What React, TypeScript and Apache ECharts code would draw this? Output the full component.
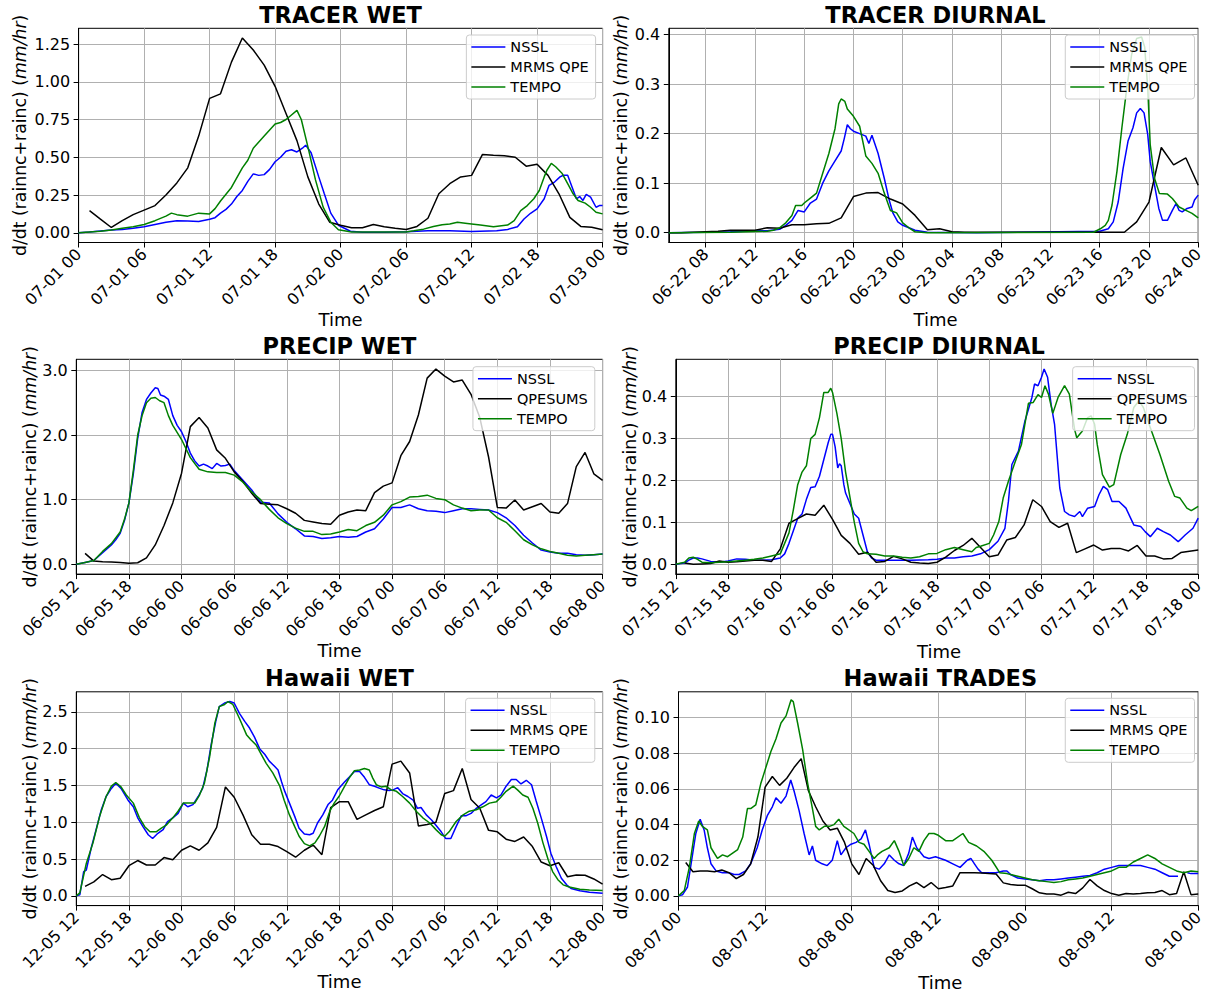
import React, { useEffect, useRef } from 'react';
import * as echarts from 'echarts';

const FONT = 'DejaVu Sans';

// ---------- tick values ----------
const xTicks6h48 = [0, 6, 12, 18, 24, 30, 36, 42, 48];
const xTicks4h = [8, 12, 16, 20, 24, 28, 32, 36, 40, 44, 48];
const xTicks6h60 = [0, 6, 12, 18, 24, 30, 36, 42, 48, 54, 60];
const xTicks12h72 = [0, 12, 24, 36, 48, 60, 72];
const yTicksTracerWet = [0, 0.25, 0.5, 0.75, 1.0, 1.25];
const yTicksTracerDiurnal = [0, 0.1, 0.2, 0.3, 0.4];
const yTicksPrecipWet = [0, 1, 2, 3];
const yTicksPrecipDiurnal = [0, 0.1, 0.2, 0.3, 0.4];
const yTicksHawaiiWet = [0, 0.5, 1.0, 1.5, 2.0, 2.5];
const yTicksHawaiiTrades = [0, 0.02, 0.04, 0.06, 0.08, 0.1];

// ---------- TRACER WET (hours since 07-01 00) ----------
const p1Nssl = [[0,0],[1,0.005],[2,0.012],[3,0.018],[4,0.022],[5,0.03],[6,0.04],[7,0.055],[8,0.07],[9,0.08],[10,0.078],[11,0.075],[12,0.09],[12.5,0.1],[13,0.13],[13.5,0.155],[14,0.19],[14.5,0.24],[15,0.28],[15.5,0.34],[16,0.39],[16.5,0.38],[17,0.385],[17.5,0.42],[18,0.47],[18.5,0.5],[19,0.54],[19.5,0.55],[20,0.535],[20.5,0.56],[20.8,0.58],[21.3,0.53],[22,0.37],[22.5,0.26],[23.1,0.13],[23.8,0.05],[24.9,0.01],[26,0.003],[28,0.003],[30,0.007],[32,0.013],[34,0.013],[36,0.009],[38.3,0.013],[39.3,0.022],[40.2,0.04],[40.8,0.091],[41.4,0.129],[42,0.158],[42.65,0.225],[43.1,0.314],[43.6,0.336],[44.1,0.37],[44.4,0.381],[44.8,0.381],[45.2,0.303],[45.6,0.225],[45.9,0.24],[46.2,0.214],[46.5,0.254],[46.9,0.236],[47.4,0.169],[47.7,0.18],[48,0.18]];
const p1Mrms = [[1,0.146],[2,0.09],[3,0.035],[4,0.08],[5,0.12],[6,0.15],[7,0.18],[8,0.25],[9,0.33],[10,0.43],[11,0.64],[12,0.89],[13,0.92],[14,1.13],[15,1.29],[16,1.21],[17,1.11],[18,0.97],[19,0.79],[20,0.61],[21,0.37],[22,0.19],[23,0.07],[24,0.05],[25,0.033],[26,0.033],[27,0.055],[28,0.04],[29,0.03],[30,0.022],[31,0.042],[32,0.096],[33,0.258],[34,0.325],[35,0.37],[36,0.38],[37,0.519],[38,0.514],[39,0.51],[40,0.5],[41,0.441],[42,0.454],[43,0.38],[44,0.258],[45,0.102],[46,0.042],[47,0.036],[48,0.02]];
const p1Tempo = [[0,0],[1,0.005],[2,0.01],[3,0.018],[4,0.03],[5,0.04],[6,0.055],[7,0.08],[8,0.11],[8.5,0.13],[9,0.12],[10,0.11],[11,0.13],[12,0.125],[12.5,0.16],[13,0.21],[14,0.3],[15,0.43],[15.5,0.48],[16,0.56],[17,0.64],[17.5,0.68],[18,0.72],[18.5,0.73],[19,0.75],[19.5,0.78],[20,0.81],[20.4,0.75],[21,0.57],[21.7,0.35],[22.4,0.17],[23.1,0.07],[23.8,0.02],[25,0.005],[30,0.005],[30.7,0.013],[31.6,0.024],[32.5,0.042],[33.3,0.053],[34,0.058],[34.7,0.069],[35.6,0.062],[36.8,0.051],[38,0.04],[39.3,0.051],[39.9,0.08],[40.5,0.147],[41.1,0.18],[41.7,0.225],[42.2,0.28],[42.65,0.37],[42.9,0.414],[43.3,0.459],[43.7,0.437],[44.3,0.392],[44.8,0.325],[45.3,0.258],[45.75,0.214],[46.4,0.196],[46.9,0.169],[47.4,0.136],[48,0.125]];

// ---------- TRACER DIURNAL (hours since 06-22 00) ----------
const p2Nssl = [[5,0],[8,0.001],[10,0.002],[12,0.004],[13,0.004],[14,0.007],[14.5,0.015],[15,0.025],[15.5,0.045],[16,0.042],[16.5,0.06],[17,0.068],[17.5,0.1],[18,0.125],[18.5,0.145],[19,0.165],[19.25,0.19],[19.5,0.218],[19.75,0.21],[20,0.205],[20.5,0.2],[21,0.195],[21.25,0.18],[21.5,0.197],[22,0.16],[22.5,0.11],[22.9,0.066],[23.2,0.04],[23.6,0.022],[24,0.015],[24.5,0.01],[25,0.005],[26,0.001],[30,0],[40,0.003],[40.7,0.008],[41.1,0.022],[41.5,0.062],[41.9,0.13],[42.3,0.185],[42.7,0.212],[43,0.242],[43.3,0.251],[43.6,0.242],[43.9,0.198],[44.1,0.144],[44.45,0.096],[44.8,0.049],[45.1,0.025],[45.5,0.025],[45.9,0.045],[46.2,0.059],[46.45,0.045],[46.7,0.042],[47.1,0.049],[47.5,0.052],[47.7,0.066],[48,0.076]];
const p2Mrms = [[5,0],[6,0],[7,0.001],[8,0.002],[9,0.003],[10,0.005],[11,0.005],[12,0.005],[13,0.01],[14,0.009],[15,0.016],[16,0.016],[17,0.018],[18,0.019],[19,0.03],[20,0.073],[21,0.08],[22,0.081],[23,0.068],[24,0.058],[25,0.035],[26,0.006],[27,0.008],[28,0.002],[29,0.001],[32,0.001],[36,0.001],[40,0.001],[41,0.001],[42,0.001],[43,0.022],[44,0.062],[45,0.172],[46,0.137],[47,0.151],[48,0.096]];
const p2Tempo = [[5,0],[10,0.001],[13,0.003],[13.5,0.005],[14,0.01],[14.5,0.02],[15,0.035],[15.3,0.055],[15.8,0.055],[16,0.06],[16.5,0.07],[17,0.08],[17.5,0.12],[18,0.16],[18.5,0.21],[18.8,0.26],[19,0.27],[19.3,0.265],[19.5,0.25],[20,0.235],[20.5,0.215],[21,0.155],[21.5,0.14],[22,0.12],[22.5,0.08],[23,0.045],[23.5,0.04],[24,0.02],[24.5,0.01],[25,0.002],[26,0],[39.5,0.001],[40.05,0.008],[40.45,0.015],[40.7,0.025],[41,0.056],[41.4,0.124],[41.8,0.212],[42.2,0.293],[42.6,0.361],[43,0.392],[43.4,0.395],[43.65,0.375],[43.9,0.293],[44.1,0.178],[44.45,0.11],[44.85,0.079],[45.5,0.078],[45.9,0.069],[46.45,0.052],[47,0.045],[47.5,0.039],[48,0.03]];

// ---------- PRECIP WET (hours since 06-05 12) ----------
const p3Nssl = [[0,0],[1,0.03],[2,0.06],[3,0.18],[4,0.3],[4.5,0.38],[5,0.48],[5.5,0.68],[6,0.95],[6.5,1.4],[7,1.95],[7.5,2.35],[8,2.55],[8.5,2.65],[9,2.73],[9.3,2.72],[9.6,2.62],[10,2.6],[10.5,2.55],[11,2.3],[11.5,2.15],[12,2.05],[12.5,1.9],[13,1.72],[13.5,1.6],[14,1.52],[14.5,1.55],[15,1.52],[15.5,1.48],[16,1.56],[16.5,1.52],[17,1.53],[17.5,1.55],[18,1.45],[19,1.3],[20,1.15],[21,0.96],[22,0.95],[23,0.78],[24,0.65],[25,0.55],[26,0.44],[27,0.43],[28,0.4],[29,0.41],[30,0.43],[31,0.42],[32,0.43],[33,0.5],[34,0.55],[35,0.7],[36,0.88],[37,0.88],[38,0.92],[39,0.86],[40,0.83],[41,0.82],[42,0.8],[43,0.83],[44,0.86],[45,0.86],[46,0.85],[47,0.84],[48,0.8],[49,0.72],[50,0.6],[51,0.45],[52,0.33],[53,0.22],[54,0.19],[55,0.17],[56,0.17],[57,0.15],[58,0.14],[59,0.15],[60,0.16]];
const p3Qpesums = [[1,0.17],[2,0.05],[3,0.04],[4,0.035],[5,0.03],[6,0.015],[7,0.025],[8,0.1],[9,0.3],[10,0.6],[11,0.95],[12,1.41],[13,2.13],[14,2.27],[15,2.11],[16,1.77],[17,1.64],[18,1.43],[19,1.28],[20,1.1],[21,0.94],[22,0.93],[23,0.92],[24,0.86],[25,0.79],[26,0.68],[27,0.655],[28,0.63],[29,0.62],[30,0.76],[31,0.81],[32,0.84],[33,0.83],[34,1.11],[35,1.21],[36,1.26],[37,1.68],[38,1.9],[39,2.31],[40,2.88],[41,3.02],[42,2.91],[43,2.82],[44,2.85],[45,2.63],[46,2.27],[47,1.66],[48,0.88],[49,0.87],[50,0.995],[51,0.84],[52,0.89],[53,0.94],[54,0.81],[55,0.79],[56,0.94],[57,1.51],[58,1.73],[59,1.4],[60,1.3]];
const p3Tempo = [[0,0],[1,0.03],[2,0.06],[3,0.2],[4,0.32],[5,0.5],[5.5,0.7],[6,0.95],[6.5,1.45],[7,2.0],[7.5,2.3],[8,2.5],[8.5,2.57],[9,2.58],[9.5,2.53],[10,2.5],[10.5,2.3],[11,2.15],[12,1.93],[13,1.65],[14,1.47],[15,1.43],[16,1.42],[17,1.42],[18,1.38],[19,1.27],[20,1.12],[21,1.0],[22,0.85],[23,0.72],[24,0.63],[25,0.56],[26,0.51],[27,0.51],[28,0.46],[29,0.47],[30,0.5],[31,0.54],[32,0.52],[33,0.6],[34,0.65],[35,0.76],[36,0.92],[37,0.97],[38,1.04],[39,1.05],[40,1.07],[41,1.02],[42,1.0],[43,0.92],[44,0.87],[45,0.83],[46,0.84],[47,0.84],[48,0.72],[49,0.65],[50,0.52],[51,0.38],[52,0.3],[53,0.24],[54,0.2],[55,0.17],[56,0.14],[57,0.13],[58,0.14],[59,0.15],[60,0.16]];

// ---------- PRECIP DIURNAL (hours since 07-15 12) ----------
const p4Nssl = [[0,0],[1,0.003],[1.5,0.01],[2,0.015],[2.5,0.015],[3,0.013],[4,0.007],[5,0.005],[6,0.008],[7,0.013],[8,0.012],[9,0.01],[10,0.01],[11,0.011],[12,0.015],[12.5,0.025],[13,0.05],[13.5,0.08],[14,0.11],[14.5,0.12],[15,0.155],[15.5,0.183],[16,0.185],[16.5,0.21],[17,0.25],[17.5,0.29],[17.8,0.31],[18,0.31],[18.3,0.28],[18.6,0.23],[18.8,0.24],[19,0.235],[19.3,0.19],[19.5,0.17],[20,0.145],[20.5,0.12],[21,0.11],[21.5,0.07],[22,0.03],[22.5,0.015],[23,0.01],[25,0.01],[27,0.01],[29,0.011],[30,0.012],[31,0.015],[32,0.015],[33,0.018],[34,0.02],[35,0.025],[36,0.035],[37,0.055],[37.8,0.086],[38.2,0.15],[38.6,0.238],[39.35,0.27],[40.1,0.342],[40.9,0.398],[41.2,0.43],[41.6,0.426],[42,0.446],[42.3,0.466],[42.7,0.446],[43.1,0.382],[43.5,0.334],[44.1,0.182],[44.65,0.126],[45.2,0.118],[45.8,0.114],[46.4,0.126],[46.7,0.114],[47.3,0.134],[48.1,0.138],[48.6,0.166],[49.1,0.186],[49.6,0.178],[50.1,0.15],[50.9,0.15],[51.7,0.134],[52.6,0.094],[53.4,0.09],[53.9,0.078],[54.5,0.066],[55.3,0.086],[56,0.078],[56.8,0.07],[57.7,0.054],[58.5,0.07],[59.4,0.086],[60,0.11]];
const p4Qpesums = [[1,0.003],[2,0],[3,0.001],[4,0.002],[5,0.008],[6,0.005],[7,0.006],[8,0.008],[9,0.01],[10,0.01],[11,0.007],[12,0.037],[13,0.098],[14,0.109],[15,0.12],[16,0.117],[17,0.141],[18,0.107],[19,0.069],[20,0.05],[21,0.024],[22,0.029],[23,0.005],[24,0.007],[25,0.019],[26,0.013],[27,0.005],[28,0.003],[29,0.002],[30,0.005],[31,0.017],[32,0.033],[33,0.045],[34,0.062],[35,0.04],[36,0.018],[37,0.022],[38,0.058],[39,0.064],[40,0.094],[41,0.154],[42,0.138],[43,0.102],[44,0.088],[45,0.098],[46,0.028],[47,0.037],[48,0.046],[49,0.034],[50,0.038],[51,0.038],[52,0.032],[53,0.045],[54,0.02],[55,0.02],[56,0.013],[57,0.014],[58,0.028],[59,0.031],[60,0.034]];
const p4Tempo = [[0,0],[1,0.005],[1.5,0.015],[2,0.017],[2.5,0.012],[3,0.005],[4,0.004],[5,0.005],[6,0.006],[7,0.008],[8,0.01],[9,0.012],[10,0.015],[11,0.02],[12,0.025],[12.5,0.05],[13,0.075],[13.5,0.13],[14,0.19],[14.5,0.22],[15,0.235],[15.5,0.3],[16,0.31],[16.5,0.35],[17,0.41],[17.5,0.41],[17.8,0.42],[18,0.41],[18.5,0.36],[19,0.3],[19.5,0.22],[20,0.16],[20.5,0.1],[21,0.05],[21.5,0.03],[22,0.025],[23,0.024],[24,0.02],[25,0.02],[26,0.017],[27,0.015],[28,0.018],[29,0.025],[30,0.026],[31,0.035],[32,0.04],[33,0.035],[34,0.03],[34.5,0.04],[35,0.043],[36,0.05],[36.5,0.07],[37.1,0.102],[37.6,0.158],[38.2,0.198],[39,0.246],[39.7,0.286],[40.5,0.384],[41.05,0.386],[41.6,0.405],[42,0.398],[42.4,0.426],[42.8,0.406],[43.3,0.36],[43.9,0.398],[44.65,0.426],[45.2,0.406],[45.8,0.322],[46.05,0.302],[46.7,0.318],[47.3,0.35],[47.7,0.354],[48.1,0.334],[48.4,0.286],[49,0.214],[49.8,0.184],[50.3,0.19],[51.1,0.262],[51.85,0.31],[52.6,0.374],[53.2,0.39],[53.7,0.374],[54.5,0.326],[55.6,0.262],[56.6,0.198],[57.3,0.162],[57.9,0.158],[58.7,0.134],[59.2,0.128],[60,0.138]];

// ---------- Hawaii WET (hours since 12-05 12) ----------
const p5Nssl = [[0,0],[0.4,0.014],[0.84,0.33],[1.14,0.35],[1.7,0.65],[2.3,0.92],[2.85,1.17],[3.4,1.35],[4,1.46],[4.5,1.53],[5.1,1.46],[5.9,1.3],[6.5,1.21],[7,1.06],[7.6,0.94],[8.2,0.83],[8.7,0.78],[9.3,0.85],[9.9,0.9],[10.4,1.01],[11,1.06],[11.6,1.12],[12.2,1.26],[12.7,1.21],[13.3,1.24],[13.9,1.35],[14.4,1.46],[14.9,1.71],[15.4,2.07],[15.9,2.37],[16.3,2.57],[16.9,2.62],[17.5,2.64],[18,2.62],[18.6,2.48],[19.2,2.37],[19.75,2.28],[20.3,2.16],[20.9,2.0],[21.5,1.92],[22,1.83],[22.6,1.76],[23,1.71],[23.4,1.55],[23.7,1.44],[24.3,1.26],[24.9,1.08],[25.4,0.92],[26,0.84],[26.6,0.83],[27,0.85],[27.5,0.99],[28.1,1.1],[28.7,1.24],[29.2,1.3],[29.8,1.44],[30.6,1.55],[31.1,1.61],[31.7,1.69],[32.3,1.69],[32.85,1.61],[33.4,1.51],[34,1.49],[34.6,1.46],[35.1,1.44],[35.7,1.43],[36.1,1.44],[36.65,1.47],[37.2,1.39],[37.8,1.35],[38.4,1.3],[38.9,1.19],[39.3,1.2],[39.9,1.1],[40.5,1.03],[41,0.96],[41.6,0.87],[42.1,0.78],[42.7,0.78],[43.3,0.94],[43.9,1.09],[44.45,1.09],[45,1.12],[45.6,1.19],[46.2,1.24],[46.7,1.28],[47.3,1.37],[47.9,1.33],[48.4,1.37],[49,1.49],[49.6,1.58],[50.15,1.58],[50.7,1.52],[51.3,1.57],[51.9,1.51],[52.4,1.3],[53,1.06],[53.6,0.81],[54.1,0.58],[54.7,0.4],[55.3,0.24],[55.9,0.15],[56.4,0.1],[57.4,0.07],[58.5,0.05],[60,0.036]];
const p5Mrms = [[1,0.13],[2,0.19],[3,0.29],[4,0.22],[5,0.24],[6,0.41],[7,0.48],[8,0.42],[9,0.42],[10,0.52],[11,0.49],[12,0.62],[13,0.68],[14,0.62],[15,0.72],[16,0.93],[17,1.48],[18,1.34],[19,1.1],[20,0.83],[21,0.7],[22,0.7],[23,0.67],[24,0.6],[25,0.525],[26,0.62],[27,0.69],[28,0.56],[29,1.2],[30,1.28],[31,1.28],[32,1.04],[33,1.1],[34,1.16],[35,1.21],[36,1.79],[37,1.83],[38,1.67],[39,0.95],[40,0.97],[41,1.0],[42,1.39],[43,1.43],[44,1.73],[45,1.31],[46,1.19],[47,0.89],[48,0.87],[49,0.77],[50,0.74],[51,0.8],[52,0.67],[53,0.46],[54,0.41],[55,0.45],[56,0.26],[57,0.285],[58,0.28],[59,0.23],[60,0.16]];
const p5Tempo = [[0,0],[0.4,0.04],[1.14,0.44],[1.9,0.72],[2.66,1.08],[3.4,1.35],[4,1.49],[4.5,1.54],[5.1,1.48],[5.7,1.37],[6.5,1.26],[7.2,1.06],[7.8,0.94],[8.4,0.87],[9.1,0.87],[9.7,0.92],[10.25,0.96],[11,1.06],[11.6,1.15],[12.2,1.26],[12.9,1.26],[13.5,1.26],[14.05,1.37],[14.6,1.53],[15.2,1.89],[15.8,2.35],[16.3,2.57],[16.9,2.6],[17.3,2.64],[17.85,2.6],[18.6,2.41],[19.4,2.19],[19.9,2.12],[20.5,2.05],[21.1,1.92],[21.65,1.8],[22.4,1.67],[23.2,1.49],[23.7,1.3],[24.3,1.1],[24.9,0.94],[25.4,0.81],[26,0.71],[26.6,0.68],[27.2,0.72],[27.7,0.81],[28.3,0.94],[28.9,1.15],[29.4,1.26],[30,1.36],[30.6,1.49],[31.1,1.6],[31.7,1.7],[32.3,1.71],[32.85,1.73],[33.4,1.71],[33.8,1.6],[34.2,1.51],[34.75,1.48],[35.3,1.49],[35.9,1.44],[36.5,1.42],[37.2,1.35],[38,1.26],[38.75,1.15],[39.5,1.06],[40.3,0.99],[41,0.9],[41.6,0.83],[42,0.81],[42.5,0.87],[43.3,1.01],[44.1,1.1],[44.8,1.15],[45.6,1.17],[46.35,1.21],[47.1,1.26],[47.9,1.28],[48.4,1.34],[49,1.42],[49.8,1.49],[50.3,1.44],[50.9,1.37],[51.5,1.34],[52.05,1.19],[52.6,0.99],[53.2,0.72],[53.8,0.49],[54.3,0.33],[54.9,0.22],[55.5,0.15],[56.2,0.12],[57.4,0.09],[58.5,0.08],[60,0.072]];

// ---------- Hawaii TRADES (hours since 08-07 00) ----------
const p6Nssl = [[0,0],[0.55,0.0006],[1.25,0.005],[1.9,0.022],[2.4,0.035],[3,0.043],[3.55,0.037],[4,0.027],[4.5,0.018],[5.2,0.014],[6.1,0.013],[7,0.013],[7.7,0.012],[8.4,0.012],[9.3,0.014],[10,0.018],[10.9,0.027],[11.6,0.037],[12.3,0.045],[13,0.05],[13.5,0.055],[14.2,0.052],[14.9,0.056],[15.55,0.065],[16,0.059],[16.7,0.048],[17.4,0.035],[18.1,0.023],[18.55,0.028],[19,0.02],[19.9,0.018],[20.6,0.017],[21.3,0.02],[22,0.031],[22.5,0.023],[23.2,0.027],[23.9,0.029],[24.6,0.03],[25.3,0.032],[25.9,0.037],[26.4,0.029],[27.1,0.016],[27.8,0.015],[28.5,0.018],[29.2,0.023],[29.9,0.02],[30.55,0.018],[31.2,0.017],[31.9,0.024],[32.4,0.033],[33,0.027],[34,0.022],[34.7,0.021],[35.6,0.022],[36.3,0.021],[37,0.02],[38,0.018],[39,0.016],[40,0.02],[40.5,0.021],[41,0.018],[41.5,0.015],[42,0.013],[43,0.013],[44,0.013],[45,0.014],[45.5,0.014],[46,0.012],[47,0.01],[48,0.0095],[49,0.009],[50,0.0085],[51,0.009],[52,0.009],[53,0.0095],[54,0.01],[55,0.0105],[56,0.011],[57,0.0115],[58,0.013],[59,0.015],[60,0.016],[61,0.017],[62,0.017],[63,0.017],[64,0.017],[65,0.016],[66,0.015],[67,0.013],[68,0.011],[69.2,0.011],[69.6,null],[70.5,0.013],[71,0.0125],[72,0.0125]];
const p6Mrms = [[1,0.0187],[2,0.0135],[3,0.014],[4,0.014],[5,0.0135],[6,0.0145],[7,0.013],[8,0.0097],[9,0.012],[10,0.018],[11,0.033],[12,0.061],[13,0.067],[14,0.062],[15,0.066],[16,0.072],[17,0.077],[18,0.059],[19,0.05],[20,0.042],[21,0.037],[22,0.038],[23,0.03],[24,0.018],[25,0.012],[26,0.021],[27,0.017],[28,0.0085],[29,0.003],[30,0.0019],[31,0.0028],[32,0.0056],[33,0.0075],[34,0.0047],[35,0.0075],[36,0.004],[37,0.0047],[38,0.0056],[39,0.013],[40,0.013],[41,0.013],[42,0.0129],[43,0.0125],[44,0.0123],[45,0.0073],[46,0.0064],[47,0.006],[48,0.006],[49,0.004],[50,0.0017],[51,0.001],[52,0.001],[53,0.0004],[54,0.002],[55,0.0013],[56,0.0045],[57,0.0092],[58,0.0056],[59,0.003],[60,0.0013],[61,0.0004],[62,0.0013],[63,0.001],[64,0.0013],[65,0.0017],[66,0.0019],[67,0.003],[68,0.0007],[69,0.0013],[70,0.0135],[71,0.0007],[72,0.001]];
const p6Tempo = [[0,0],[0.8,0.003],[1.5,0.016],[2.2,0.035],[2.8,0.042],[3.3,0.039],[4,0.037],[4.5,0.027],[5.4,0.021],[6.1,0.023],[6.8,0.022],[7.5,0.024],[8.2,0.026],[8.9,0.033],[9.55,0.049],[10,0.049],[10.7,0.051],[11.4,0.063],[12.1,0.072],[12.8,0.081],[13.5,0.088],[14.2,0.097],[14.9,0.101],[15.6,0.11],[15.9,0.109],[16.5,0.097],[17.2,0.082],[17.9,0.063],[18.6,0.048],[19,0.039],[19.5,0.037],[20.2,0.039],[20.9,0.039],[21.55,0.04],[22.2,0.043],[22.9,0.039],[23.6,0.037],[24.3,0.035],[25,0.03],[25.7,0.029],[26.4,0.025],[27.1,0.021],[27.55,0.023],[28.2,0.025],[29.2,0.027],[29.9,0.031],[30.55,0.025],[31.2,0.017],[31.9,0.021],[32.6,0.027],[33.3,0.025],[34,0.031],[34.7,0.035],[35.4,0.035],[36,0.034],[37,0.031],[38,0.031],[39.4,0.035],[40.2,0.03],[41.3,0.028],[42.3,0.025],[43.4,0.02],[44.5,0.013],[45.5,0.0125],[46,0.012],[47,0.011],[48,0.01],[49,0.009],[50,0.0085],[51,0.008],[52,0.0075],[53,0.008],[54,0.009],[55,0.0095],[56,0.01],[57,0.011],[58,0.012],[59,0.013],[60,0.014],[61,0.016],[62,0.016],[63,0.019],[64,0.021],[65,0.023],[66,0.021],[67,0.018],[68,0.016],[69,0.014],[70,0.013],[71,0.014],[72,0.0135]];

// ---------- panel definitions (data + axis ranges) ----------
const panelData = [
  { title: 'TRACER WET', obsName: 'MRMS QPE', month: 7, startDay: 1, startHour: 0, xMin: 0, xMax: 48, xTicks: xTicks6h48, yMin: -0.0645, yMax: 1.354, yTicks: yTicksTracerWet, yDec: 2, nssl: p1Nssl, obs: p1Mrms, tempo: p1Tempo },
  { title: 'TRACER DIURNAL', obsName: 'MRMS QPE', month: 6, startDay: 22, startHour: 0, xMin: 5, xMax: 48, xTicks: xTicks4h, yMin: -0.0197, yMax: 0.4127, yTicks: yTicksTracerDiurnal, yDec: 1, nssl: p2Nssl, obs: p2Mrms, tempo: p2Tempo },
  { title: 'PRECIP WET', obsName: 'QPESUMS', month: 6, startDay: 5, startHour: 12, xMin: 0, xMax: 60, xTicks: xTicks6h60, yMin: -0.151, yMax: 3.171, yTicks: yTicksPrecipWet, yDec: 1, nssl: p3Nssl, obs: p3Qpesums, tempo: p3Tempo },
  { title: 'PRECIP DIURNAL', obsName: 'QPESUMS', month: 7, startDay: 15, startHour: 12, xMin: 0, xMax: 60, xTicks: xTicks6h60, yMin: -0.0233, yMax: 0.489, yTicks: yTicksPrecipDiurnal, yDec: 1, nssl: p4Nssl, obs: p4Qpesums, tempo: p4Tempo },
  { title: 'Hawaii WET', obsName: 'MRMS QPE', month: 12, startDay: 5, startHour: 12, xMin: 0, xMax: 60, xTicks: xTicks6h60, yMin: -0.132, yMax: 2.772, yTicks: yTicksHawaiiWet, yDec: 1, nssl: p5Nssl, obs: p5Mrms, tempo: p5Tempo },
  { title: 'Hawaii TRADES', obsName: 'MRMS QPE', month: 8, startDay: 7, startHour: 0, xMin: 0, xMax: 72, xTicks: xTicks12h72, yMin: -0.00545, yMax: 0.1145, yTicks: yTicksHawaiiTrades, yDec: 2, nssl: p6Nssl, obs: p6Mrms, tempo: p6Tempo },
];

// ---------- layout (pixels) ----------
const layout = [
  { left: 78.6, top: 28.3, width: 524, height: 214.2, legendRight: 610.4, legendTop: 35, yLabX: 20.4, titleY: 15, timeY: 319 },
  { left: 668.8, top: 28.3, width: 533.4, height: 214.2, legendRight: 11.5, legendTop: 35, yLabX: 620.7, titleY: 15, timeY: 319.5 },
  { left: 76.3, top: 359.3, width: 526.3, height: 214.8, legendRight: 611.2, legendTop: 366.7, yLabX: 29.5, titleY: 346, timeY: 650 },
  { left: 675.8, top: 359.3, width: 526.4, height: 214.8, legendRight: 11.5, legendTop: 366.7, yLabX: 630, titleY: 346, timeY: 651 },
  { left: 76.3, top: 691.8, width: 526.3, height: 213.8, legendRight: 611.2, legendTop: 698.3, yLabX: 30, titleY: 678, timeY: 981.5 },
  { left: 678.5, top: 691.8, width: 523.7, height: 213.8, legendRight: 11.5, legendTop: 698.3, yLabX: 620.7, titleY: 678, timeY: 982.5 },
];

const pad2 = (n: number) => (n < 10 ? '0' + n : '' + n);

function makeXFormatter(p: any) {
  return (v: number) => {
    const total = p.startHour + Math.round(v);
    const day = p.startDay + Math.floor(total / 24);
    const hr = total % 24;
    return `${pad2(p.month)}-${pad2(day)} ${pad2(hr)}`;
  };
}

function buildOption() {
  const grids: any[] = [];
  const xAxes: any[] = [];
  const yAxes: any[] = [];
  const series: any[] = [];
  const legends: any[] = [];
  const graphics: any[] = [];

  panelData.forEach((p, i) => {
    const L = layout[i];
    grids.push({
      left: L.left, top: L.top, width: L.width, height: L.height,
      show: true, borderColor: '#000', borderWidth: 1, backgroundColor: 'transparent',
    });
    xAxes.push({
      type: 'value', gridIndex: i, min: p.xMin, max: p.xMax,
      axisLine: { show: true, onZero: false, lineStyle: { color: '#000', width: 1 } },
      axisTick: { show: true, inside: false, length: 5, lineStyle: { color: '#000', width: 1 }, customValues: p.xTicks },
      axisLabel: {
        customValues: p.xTicks, rotate: 45, margin: 9, fontSize: 16, fontFamily: FONT, color: '#000',
        formatter: makeXFormatter(p),
      },
      splitLine: { show: true, lineStyle: { color: '#b0b0b0', width: 1 } },
    });
    yAxes.push({
      type: 'value', gridIndex: i, min: p.yMin, max: p.yMax,
      axisLine: { show: true, onZero: false, lineStyle: { color: '#000', width: 1 } },
      axisTick: { show: true, inside: false, length: 5, lineStyle: { color: '#000', width: 1 }, customValues: p.yTicks },
      axisLabel: {
        customValues: p.yTicks, margin: 8.5, fontSize: 16, fontFamily: FONT, color: '#000',
        formatter: (v: number) => v.toFixed(p.yDec),
      },
      splitLine: { show: true, lineStyle: { color: '#b0b0b0', width: 1 } },
    });
    const mk = (name: string, data: any[], color: string) => ({
      name, type: 'line', xAxisIndex: i, yAxisIndex: i, data,
      symbol: 'none', showSymbol: false, color,
      lineStyle: { color, width: 1.5 }, itemStyle: { color },
      connectNulls: false, emphasis: { disabled: true },
    });
    series.push(mk('NSSL', p.nssl, '#0000ff'));
    series.push(mk(p.obsName, p.obs, '#000000'));
    series.push(mk('TEMPO', p.tempo, '#008000'));

    legends.push({
      data: ['NSSL', p.obsName, 'TEMPO'].map((n) => ({ name: n, icon: 'rect' })),
      orient: 'vertical', right: L.legendRight, top: L.legendTop,
      itemWidth: 34, itemHeight: 1.6, itemGap: 4, padding: [4, 7, 4, 5],
      backgroundColor: 'rgba(255,255,255,0.8)', borderColor: '#cccccc', borderWidth: 1, borderRadius: 3,
      textStyle: { fontSize: 14.5, fontFamily: FONT, color: '#000', lineHeight: 16, height: 16 },
      selectedMode: false,
    });

    const cx = L.left + L.width / 2;
    const cy = L.top + L.height / 2;
    graphics.push({
      type: 'text', x: cx, y: L.titleY,
      style: { text: p.title, fontSize: 22.5, fontWeight: 'bold', fontFamily: FONT, fill: '#000', align: 'center', verticalAlign: 'middle' },
    });
    graphics.push({
      type: 'text', x: cx, y: L.timeY,
      style: { text: 'Time', fontSize: 18, fontFamily: FONT, fill: '#000', align: 'center', verticalAlign: 'middle' },
    });
    graphics.push({
      type: 'text', x: L.yLabX, y: cy, rotation: Math.PI / 2,
      style: {
        text: 'd/dt (rainnc+rainc) ({i|mm/hr})', fontSize: 17.3, fontFamily: FONT, fill: '#000',
        align: 'center', verticalAlign: 'middle',
        rich: { i: { fontStyle: 'italic', fontSize: 17.3, fontFamily: FONT, fill: '#000' } },
      },
    });
  });

  return {
    animation: false,
    backgroundColor: '#ffffff',
    textStyle: { fontFamily: FONT },
    grid: grids, xAxis: xAxes, yAxis: yAxes, series, legend: legends, graphic: graphics,
  };
}

export default function App() {
  const ref = useRef<HTMLDivElement>(null);
  useEffect(() => {
    document.body.style.margin = '0';
    if (!ref.current) return;
    const chart = echarts.init(ref.current, null, { renderer: 'svg', width: 1206, height: 992 });
    chart.setOption(buildOption() as any);
    return () => chart.dispose();
  }, []);
  return <div ref={ref} style={{ width: 1206, height: 992 }} />;
}
